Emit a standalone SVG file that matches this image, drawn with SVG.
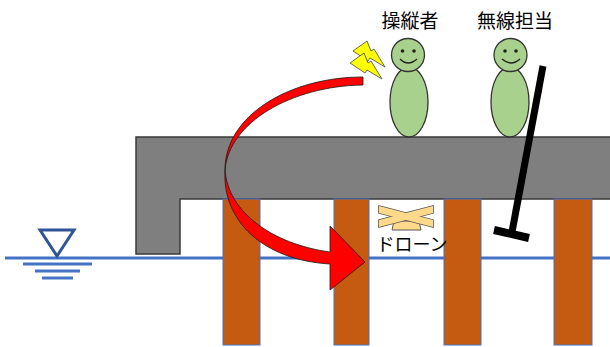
<svg xmlns="http://www.w3.org/2000/svg" width="610" height="347" viewBox="0 0 610 347">
  <style>
    .label { font-family: "Noto Sans CJK JP", "Noto Sans", sans-serif; font-size: 19px; fill: #000; }
    .pile { fill: #C55A11; stroke: #4472C4; stroke-width: 1; }
    .skin { fill: #A9D18E; stroke: #333; stroke-width: 1.3; }
    .water { stroke: #4472C4; stroke-width: 3; fill: none; }
    .bolt { fill: #FFFF00; stroke: #444; stroke-width: 0.8; stroke-linejoin: round; }
    .wing { fill: #FFD98A; }
  </style>
  <defs>
    <!-- single lightning bolt, pointing down-right -->
    <polygon id="boltShape" points="0,10 14,0 18,10 21,8 32,26 17,17 15,20"/>
  </defs>
  <rect width="610" height="347" fill="#fff"/>

  <!-- water level symbol and water surface -->
  <g id="water">
    <line class="water" x1="5" y1="258" x2="610" y2="258"/>
    <line class="water" x1="23" y1="264" x2="92" y2="264"/>
    <line class="water" x1="35" y1="271" x2="80" y2="271"/>
    <line class="water" x1="42" y1="278" x2="73" y2="278"/>
    <polygon points="40,230 74,230 57,256" fill="none" stroke="#2F5597" stroke-width="3" stroke-linejoin="miter"/>
  </g>

  <!-- concrete deck -->
  <g id="deck">
    <polygon points="136,137 615,137 615,199 180,199 180,254 136,254" fill="#7F7F7F" stroke="#3A3A3A" stroke-width="1.5"/>
  </g>

  <!-- piles -->
  <g id="piles">
    <rect class="pile" x="223" y="199" width="37" height="146"/>
    <rect class="pile" x="334" y="199" width="35" height="146"/>
    <rect class="pile" x="444" y="199" width="37" height="146"/>
    <rect class="pile" x="554" y="199" width="38" height="146"/>
  </g>

  <!-- operator -->
  <g id="operator">
    <ellipse class="skin" cx="409" cy="102" rx="19" ry="35"/>
    <circle class="skin" cx="408" cy="55" r="16.5"/>
    <circle cx="402.5" cy="51" r="1.8" fill="#222"/>
    <circle cx="414" cy="51" r="1.8" fill="#222"/>
    <path d="M400,59 Q408,67 417,59" fill="none" stroke="#222" stroke-width="1.5"/>
    <text class="label" x="410" y="28" text-anchor="middle">操縦者</text>
  </g>

  <!-- radio operator -->
  <g id="radio-operator">
    <ellipse class="skin" cx="510" cy="102" rx="19" ry="35"/>
    <circle class="skin" cx="510.5" cy="55" r="16.5"/>
    <circle cx="505" cy="51" r="1.8" fill="#222"/>
    <circle cx="516" cy="51" r="1.8" fill="#222"/>
    <path d="M502,59 Q511,67 520,59" fill="none" stroke="#222" stroke-width="1.5"/>
    <text class="label" x="515" y="28" text-anchor="middle">無線担当</text>
  </g>

  <!-- antenna pole -->
  <g id="pole">
    <line x1="543" y1="66" x2="512" y2="232" stroke="#000" stroke-width="7"/>
    <line x1="494" y1="230" x2="529" y2="238" stroke="#000" stroke-width="8"/>
  </g>

  <!-- signal bolts -->
  <g id="signal">
    <use href="#boltShape" class="bolt" transform="translate(353,41)"/>
    <use href="#boltShape" class="bolt" transform="translate(350,53)"/>
  </g>

  <!-- drone -->
  <g id="drone">
    <polygon points="394,221 419,221 421,230 392,230" class="wing" stroke="#555" stroke-width="1"/>
    <g stroke="#555" stroke-width="1.6" class="wing">
      <polygon points="379,206 433,220 433,227 379,213"/>
      <polygon points="379,220 433,206 433,213 379,227"/>
    </g>
    <g class="wing">
      <polygon points="379,206 433,220 433,227 379,213"/>
      <polygon points="379,220 433,206 433,213 379,227"/>
    </g>
    <text class="label" x="412" y="251" text-anchor="middle" style="font-size:18px">ドローン</text>
  </g>

  <!-- flight route -->
  <g id="connectors">
    <path d="M363,77 C290,77 225,115 225,170 C228,212 272,244 330,252 L330,226 L365,262 L330,290 L330,264 C262,260 222,220 225,170 C229,122 292,86 363,85 Z" fill="#FF0000" stroke="#1a1a1a" stroke-width="0.8" stroke-linejoin="miter"/>
  </g>
</svg>
